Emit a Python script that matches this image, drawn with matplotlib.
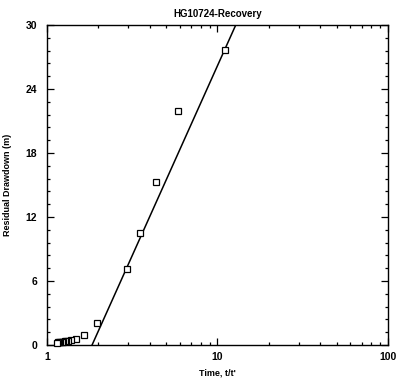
import numpy as np
import matplotlib
matplotlib.use("Agg")
import matplotlib.pyplot as plt
from matplotlib.ticker import FixedLocator, LogLocator, NullFormatter

plt.rcParams['font.family'] = ['Liberation Sans', 'DejaVu Sans']

# observed recovery data (t/t', residual drawdown)
time_ratio = [11.1, 5.87, 4.36, 3.51, 2.94, 1.96, 1.65, 1.48, 1.38,
              1.33, 1.30, 1.27, 1.24, 1.22, 1.20, 1.18, 1.16, 1.14]
drawdown = [27.7, 21.9, 15.3, 10.5, 7.1, 2.1, 0.95, 0.58, 0.48,
            0.40, 0.37, 0.34, 0.32, 0.30, 0.28, 0.26, 0.24, 0.22]

# fitted straight line (semi-log)
fit_x = [1.84, 12.8]
fit_y = [0.0, 30.0]

fig = plt.figure(figsize=(4.08, 3.85), dpi=100)
ax = fig.add_axes([0.115, 0.104, 0.836, 0.831])

ax.plot(time_ratio, drawdown, linestyle='none', marker='s', markersize=4.5,
        markerfacecolor='white', markeredgecolor='black', markeredgewidth=0.9,
        clip_on=False, zorder=3)
ax.plot(fit_x, fit_y, color='black', linewidth=1.1)

ax.set_xscale('log')
ax.set_xlim(1, 100)
ax.set_ylim(0, 30)

ax.xaxis.set_major_locator(FixedLocator([1, 10, 100]))
ax.set_xticklabels(['1', '10', '100'])
ax.xaxis.set_minor_locator(LogLocator(base=10, subs=np.arange(2, 10)))
ax.xaxis.set_minor_formatter(NullFormatter())
ax.set_yticks([0, 6, 12, 18, 24, 30])
ax.yaxis.set_minor_locator(FixedLocator(np.arange(0, 30.01, 1.2)))

ax.tick_params(which='both', direction='in', top=True, right=True,
               labelsize=7.5, width=0.9)
ax.tick_params(which='major', length=5)
ax.tick_params(which='minor', length=2.5)
ax.tick_params(axis='y', which='major', pad=7)
ax.tick_params(axis='x', which='major', pad=5)
for lbl in ax.get_xticklabels() + ax.get_yticklabels():
    lbl.set_fontweight('bold')
for sp in ax.spines.values():
    sp.set_linewidth(1.0)

ax.set_title('HG10724-Recovery', fontsize=7, fontweight='bold', pad=6)
ax.set_xlabel("Time, t/t'", fontsize=6.5, fontweight='bold', labelpad=5)
ax.set_ylabel('Residual Drawdown (m)', fontsize=6.5, fontweight='bold', labelpad=10)

fig.savefig('out.png', dpi=100)
